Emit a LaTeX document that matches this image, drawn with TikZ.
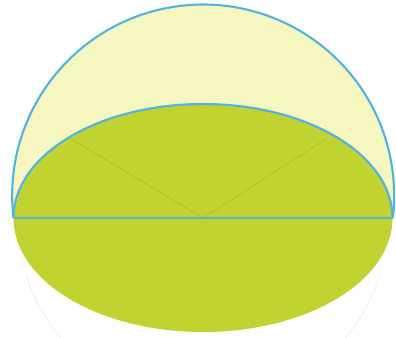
\documentclass[tikz,border=0pt]{standalone}
\usepackage{tikz}

\definecolor{domeyellow}{RGB}{246,246,192}
\definecolor{basegreen}{RGB}{192,211,48}
\definecolor{rimblue}{RGB}{82,178,224}
\definecolor{ribgreen}{RGB}{182,198,46}

\begin{document}
\begin{tikzpicture}[x=0.02cm, y=-0.02cm]
    \useasboundingbox (0,0) rectangle (396,338);

    \coordinate (O) at (203,218);
    \coordinate (L) at (13.5,218);
    \coordinate (R) at (392.5,218);
    \coordinate (P) at (68,137);
    \coordinate (Q) at (326,139);

    % dome and base disc
    \fill[domeyellow] (L) arc[start angle=173.24, end angle=366.76, radius=191] -- cycle;
    \fill[basegreen] (O) ellipse[x radius=189.5, y radius=114];

    % faint traces of the lower half
    \draw[black!6, line width=0.6pt] (O) ++(162:186) arc[start angle=162, end angle=138, radius=186];
    \draw[black!6, line width=0.6pt] (O) ++(18:186) arc[start angle=18, end angle=42, radius=186];

    % radii in the base
    \draw[ribgreen, line width=0.6pt] (P) -- (O) -- (Q);

    % outlines
    \draw[rimblue, line width=1.2pt] (L) arc[start angle=173.24, end angle=366.76, radius=191];
    \draw[rimblue, line width=1.2pt] (L) arc[start angle=180, end angle=360, x radius=189.5, y radius=114];
    \draw[rimblue, line width=1.4pt] (L) -- (R);
\end{tikzpicture}
\end{document}
